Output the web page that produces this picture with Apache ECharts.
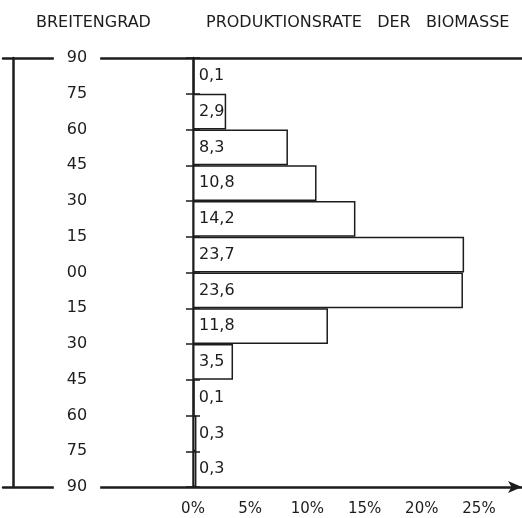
<!DOCTYPE html>
<html>
<head>
<meta charset="utf-8">
<script src="https://cdn.jsdelivr.net/npm/echarts@6/dist/echarts.min.js"></script>
<style>
  html, body { margin: 0; padding: 0; background: #fff; }
  #main { width: 522px; height: 518px; }
</style>
</head>
<body>
<div id="main"></div>
<script>
  // latitude bands, north to south
  var bands = ['90-75 N', '75-60 N', '60-45 N', '45-30 N', '30-15 N', '15-0 N',
               '0-15 S', '15-30 S', '30-45 S', '45-60 S', '60-75 S', '75-90 S'];
  // share of biomass production per band (%)
  var biomass = [0.1, 2.9, 8.3, 10.8, 14.2, 23.7, 23.6, 11.8, 3.5, 0.1, 0.3, 0.3];
  // latitude tick values (N positive, S negative)
  var latTicks = [90, 75, 60, 45, 30, 15, 0, -15, -30, -45, -60, -75, -90];
  var pctTicks = [0, 5, 10, 15, 20, 25];

  var ink = '#1c1c1c';
  var font = 'DejaVu Sans';

  var chart = echarts.init(document.getElementById('main'));

  var option = {
    backgroundColor: '#fff',
    animation: false,
    textStyle: { fontFamily: font, color: ink },
    title: [
      { text: 'BREITENGRAD', left: 31, top: 10,
        textStyle: { fontFamily: font, fontSize: 16, fontWeight: 'normal', color: ink } },
      { text: 'PRODUKTIONSRATE   DER   BIOMASSE', left: 201, top: 10,
        textStyle: { fontFamily: font, fontSize: 16, fontWeight: 'normal', color: ink } }
    ],
    grid: [
      { left: 193, right: 2, top: 58, bottom: 31 },   // bars
      { left: 3, right: 0, top: 58, bottom: 31 }      // frame
    ],
    xAxis: [
      {
        gridIndex: 0, type: 'value', min: 0, max: 28.5, interval: 5,
        axisLine: { show: false }, axisTick: { show: false }, splitLine: { show: false },
        axisLabel: {
          margin: 15, fontSize: 15, color: ink, fontFamily: font,
          formatter: function (v) { return pctTicks.indexOf(v) >= 0 ? v + '%' : ''; }
        }
      },
      {
        gridIndex: 1, type: 'value', min: 0, max: 1, position: 'bottom',
        axisLine: { show: true, onZero: false, symbol: ['none', 'arrow'], symbolSize: [9, 14],
          lineStyle: { color: ink, width: 2.5 } },
        axisTick: { show: false }, axisLabel: { show: false }, splitLine: { show: false }
      },
      {
        gridIndex: 1, type: 'value', min: 0, max: 1, position: 'top',
        axisLine: { show: true, onZero: false, lineStyle: { color: ink, width: 2.5 } },
        axisTick: { show: false }, axisLabel: { show: false }, splitLine: { show: false }
      }
    ],
    yAxis: [
      {
        gridIndex: 0, type: 'category', data: bands, inverse: true, position: 'left',
        axisLine: { show: true, onZero: false, lineStyle: { color: ink, width: 2.5 } },
        axisTick: { show: true, length: 7, lineStyle: { color: ink, width: 1.5 } },
        axisLabel: { show: false }, splitLine: { show: false }
      },
      {
        gridIndex: 0, type: 'category', data: bands, inverse: true, position: 'left',
        axisLine: { show: false, onZero: false },
        axisTick: { show: true, inside: true, length: 7, lineStyle: { color: ink, width: 1.5 } },
        axisLabel: { show: false }, splitLine: { show: false }
      },
      {
        gridIndex: 1, type: 'value', min: -90, max: 90, interval: 15,
        position: 'left', offset: -10, z: 5,
        axisLine: { show: true, onZero: false, lineStyle: { color: ink, width: 2.5 } },
        axisTick: { show: false }, splitLine: { show: false },
        axisLabel: {
          inside: true, margin: 64, align: 'center', fontSize: 16, color: ink, fontFamily: font,
          formatter: function (v) {
            if (latTicks.indexOf(v) < 0) return '';
            if (v === 0) return '00';
            return Math.abs(v) === 90 ? '{end|' + Math.abs(v) + '}' : String(Math.abs(v));
          },
          rich: {
            end: { fontSize: 16, color: ink, fontFamily: font, backgroundColor: '#fff', padding: [3, 13] }
          }
        }
      }
    ],
    series: [
      {
        type: 'bar', xAxisIndex: 0, yAxisIndex: 0,
        data: biomass,
        barCategoryGap: 0,
        itemStyle: { color: '#fff', borderColor: ink, borderWidth: 1.5 },
        label: {
          show: true, position: 'insideLeft', distance: 6,
          fontSize: 16, color: ink, fontFamily: font,
          formatter: function (p) { return String(p.value).replace('.', ','); }
        }
      }
    ]
  };

  chart.setOption(option);
</script>
</body>
</html>
